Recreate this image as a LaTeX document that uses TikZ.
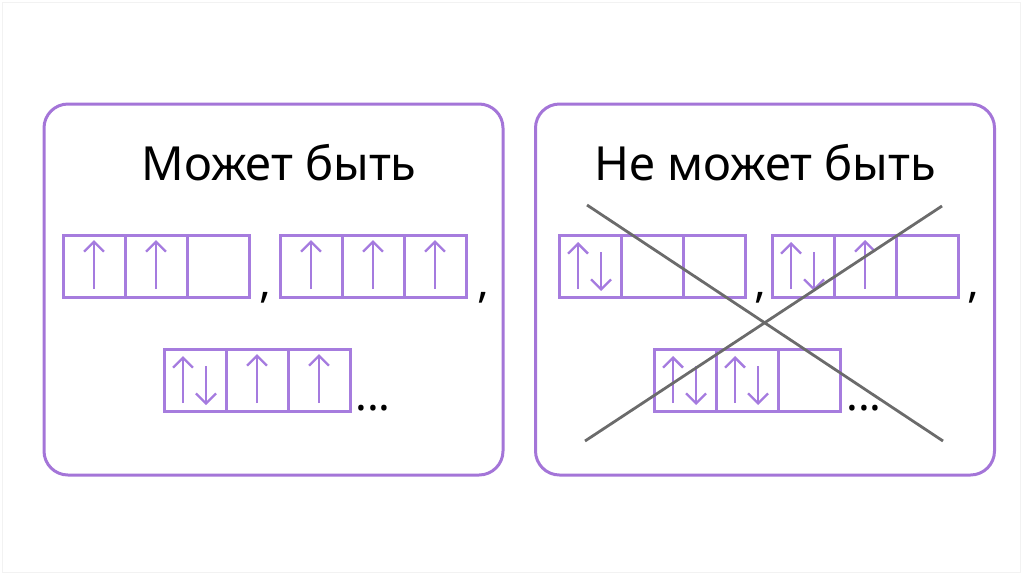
\documentclass[tikz,border=0pt]{standalone}
\usepackage{fontspec}
\setmainfont{Noto Sans}
\usetikzlibrary{positioning, arrows.meta, calc}
\definecolor{panelpurple}{HTML}{A475D8}
\definecolor{cellpurple}{HTML}{A67CDE}
\definecolor{spinpurple}{HTML}{A57BDF}
\definecolor{crossgray}{HTML}{6B6B6B}
\definecolor{framegray}{HTML}{F2F2F2}

\tikzset{
  panel/.style={draw=panelpurple, line width=3pt, rounded corners=24pt,
                minimum width=459pt, minimum height=371pt},
  cell/.style={draw=cellpurple, line width=3pt, minimum size=62pt,
               inner sep=0pt, outer sep=0pt},
  spin/.style={draw=spinpurple, line width=2.3pt,
               -{Straight Barb[length=10pt, width=20pt]}},
  cross/.style={draw=crossgray, line width=2.8pt},
  title/.style={font=\fontsize{47}{50}\selectfont, anchor=base},
  punct/.style={font=\fontsize{44}{48}\selectfont\bfseries, inner sep=0pt}
}

% three cells in a row, #1 = name, (#2,#3) = centre of the first cell
\newcommand{\orbitals}[3]{%
  \node[cell] (#1a) at (#2,#3) {};
  \node[cell, right=0pt of #1a] (#1b) {};
  \node[cell, right=0pt of #1b] (#1c) {};}
% one electron / electron pair in a cell
\newcommand{\spinup}[1]{\draw[spin] ($(#1)+(0,23)$) -- ($(#1)+(0,-26)$);}
\newcommand{\spinpair}[1]{%
  \draw[spin] ($(#1)+(-12,23)$) -- ($(#1)+(-12,-24)$);
  \draw[spin] ($(#1)+(11,-14)$) -- ($(#1)+(11,25)$);}

\begin{document}
\begin{tikzpicture}[x=1pt, y=-1pt]
  \useasboundingbox (0,0) rectangle (1024,574);
  \draw[framegray, line width=1pt] (2,2) rectangle (1020,572);

  \node[panel] (can) at (273.5,289.5) {};
  \node[panel] (cannot) at (765,289.5) {};

  \node[title] (cantitle) at (279,180) {Может быть};
  \node[title] (cannottitle) at (765,180) {Не может быть};

  % allowed
  \orbitals{la}{94}{266}
  \orbitals{lb}{311}{266}
  \orbitals{lc}{195}{380}
  \spinup{laa} \spinup{lab}
  \spinup{lba} \spinup{lbb} \spinup{lbc}
  \spinpair{lca} \spinup{lcb} \spinup{lcc}
  \node[punct] (comma1) at (265,298) {,};
  \node[punct] (comma2) at (483,298) {,};
  \node[punct] (dots1) at (373,408) {...};

  % forbidden
  \orbitals{ra}{590}{266}
  \orbitals{rb}{803}{266}
  \orbitals{rc}{685}{380}
  \spinpair{raa}
  \spinpair{rba} \spinup{rbb}
  \spinpair{rca} \spinpair{rcb}
  \node[punct] (comma3) at (760,298) {,};
  \node[punct] (comma4) at (973,298) {,};
  \node[punct] (dots2) at (864,408) {...};

  \coordinate (x1) at (587,205);
  \coordinate (x2) at (943,441);
  \coordinate (x3) at (942,206);
  \coordinate (x4) at (585,441);
  \draw[cross] (x1) -- (x2);
  \draw[cross] (x3) -- (x4);
\end{tikzpicture}
\end{document}
